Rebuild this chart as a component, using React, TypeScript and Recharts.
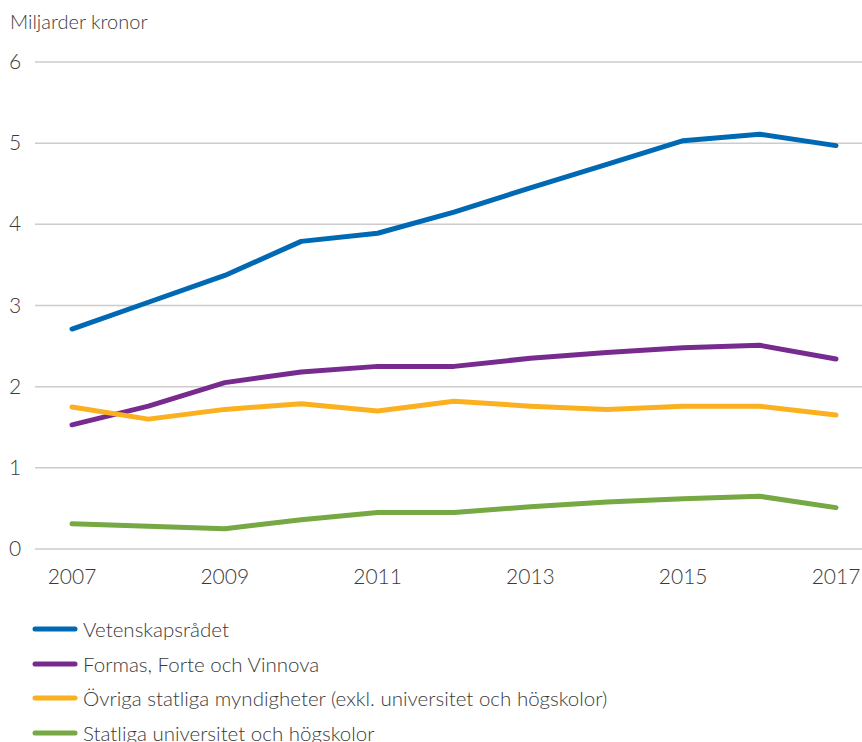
import React from "react";
import { LineChart, Line, XAxis, YAxis, CartesianGrid } from "recharts";

const years = [2007, 2008, 2009, 2010, 2011, 2012, 2013, 2014, 2015, 2016, 2017];
const vetenskapsradet = [2.71, 3.04, 3.37, 3.79, 3.89, 4.15, 4.45, 4.74, 5.03, 5.11, 4.97];
const formas = [1.53, 1.76, 2.05, 2.18, 2.25, 2.25, 2.35, 2.42, 2.48, 2.51, 2.34];
const ovriga = [1.75, 1.6, 1.72, 1.79, 1.7, 1.82, 1.76, 1.72, 1.76, 1.76, 1.65];
const statliga = [0.31, 0.28, 0.25, 0.36, 0.45, 0.45, 0.52, 0.58, 0.62, 0.65, 0.51];

const xTicks = [2007, 2009, 2011, 2013, 2015, 2017];
const yTicks = [0, 1, 2, 3, 4, 5, 6];
const yLabel = "Miljarder kronor";

const series = [
  { key: "v", name: "Vetenskapsrådet", color: "#0069B4", values: vetenskapsradet },
  { key: "f", name: "Formas, Forte och Vinnova", color: "#772B8F", values: formas },
  { key: "o", name: "Övriga statliga myndigheter (exkl. universitet och högskolor)", color: "#FBB020", values: ovriga },
  { key: "s", name: "Statliga universitet och högskolor", color: "#76A843", values: statliga },
];

const data = years.map((y, i) => {
  const row: any = { year: y };
  series.forEach((s) => (row[s.key] = s.values[i]));
  return row;
});

const FONT = "Lato, 'Open Sans', sans-serif";
const TXT = "#3a3a3a";
const WEIGHT = 300;

const YTick = (props: any) => {
  const { y, payload } = props;
  return (
    <text x={15} y={y} dy={7} textAnchor="middle" fontSize={21} fill={TXT} fontFamily={FONT} fontWeight={WEIGHT}>
      {payload.value}
    </text>
  );
};

const XTick = (props: any) => {
  const { x, payload } = props;
  return (
    <text x={x} y={584} textAnchor="middle" fontSize={21} fill={TXT} fontFamily={FONT} fontWeight={WEIGHT}>
      {payload.value}
    </text>
  );
};

export default function App() {
  return (
    <div style={{ position: "absolute", left: 0, top: 0, width: 862, height: 742, background: "#fff", overflow: "hidden" }}>
      <div
        style={{
          position: "absolute",
          left: 10,
          top: 9,
          fontSize: 20,
          color: TXT,
          fontFamily: FONT,
          fontWeight: WEIGHT,
          zIndex: 2,
        }}
      >
        {yLabel}
      </div>
      <LineChart
        width={862}
        height={600}
        data={data}
        margin={{ top: 62, right: 0, left: 0, bottom: 21 }}
      >
        <CartesianGrid horizontal vertical={false} stroke="#cccccc" strokeWidth={1.5} />
        <XAxis
          dataKey="year"
          type="number"
          domain={[2007, 2017]}
          ticks={xTicks}
          padding={{ left: 37, right: 26 }}
          axisLine={false}
          tickLine={false}
          tick={<XTick />}
          height={30}
        />
        <YAxis
          domain={[0, 6]}
          ticks={yTicks}
          axisLine={false}
          tickLine={false}
          width={35}
          tick={<YTick />}
        />
        {series.map((s) => (
          <Line
            key={s.key}
            dataKey={s.key}
            name={s.name}
            stroke={s.color}
            strokeWidth={5}
            dot={false}
            activeDot={false}
            strokeLinecap="round"
            strokeLinejoin="round"
            isAnimationActive={false}
          />
        ))}
      </LineChart>
      <div style={{ position: "absolute", left: 0, top: 612, fontFamily: FONT }}>
        {series.map((s) => (
          <div key={s.key} style={{ display: "flex", alignItems: "center", height: 34.5 }}>
            <svg width={50} height={10} style={{ marginLeft: 30 }}>
              <line x1={5} y1={5} x2={45} y2={5} stroke={s.color} strokeWidth={5} strokeLinecap="round" />
            </svg>
            <span style={{ fontSize: 20.5, color: TXT, marginLeft: 3, fontWeight: WEIGHT, whiteSpace: "nowrap" }}>{s.name}</span>
          </div>
        ))}
      </div>
    </div>
  );
}
